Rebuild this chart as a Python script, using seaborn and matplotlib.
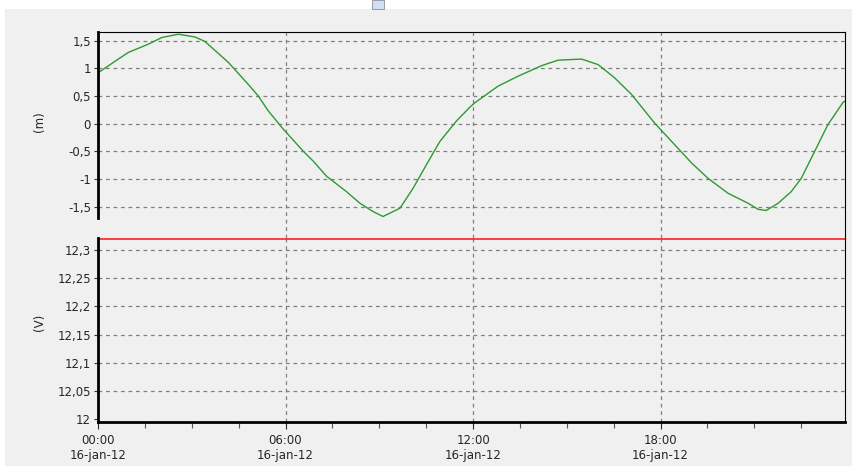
import matplotlib
matplotlib.use("Agg")
import matplotlib.pyplot as plt
import matplotlib.ticker as mticker
from matplotlib.patches import Rectangle
import seaborn as sns
import pandas as pd

# tide level (m) over the day, hours since 00:00 16-jan-12
tide_hours = [0.0, 0.65, 0.97, 1.61, 2.04, 2.57, 3.1, 3.42, 4.17, 4.81, 5.13, 5.45,
              5.9, 6.57, 6.89, 7.31, 7.95, 8.38, 8.8, 9.12, 9.66, 10.08, 10.51,
              10.94, 11.47, 11.9, 12.06, 12.8, 13.44, 14.19, 14.72, 15.47, 16.0,
              16.53, 17.07, 17.81, 18.45, 18.99, 19.52, 20.16, 20.8, 21.12, 21.38,
              21.76, 22.18, 22.5, 22.93, 23.35, 23.83, 23.9]
tide_level = [0.92, 1.17, 1.29, 1.44, 1.56, 1.62, 1.57, 1.49, 1.11, 0.71, 0.5, 0.23,
              -0.08, -0.5, -0.68, -0.95, -1.23, -1.44, -1.59, -1.68, -1.53, -1.17, -0.74,
              -0.32, 0.05, 0.3, 0.38, 0.68, 0.86, 1.05, 1.15, 1.17, 1.07,
              0.83, 0.53, 0.01, -0.38, -0.71, -0.99, -1.26, -1.44, -1.55, -1.57,
              -1.44, -1.23, -0.99, -0.5, -0.02, 0.38, 0.41]

# battery voltage (V)
volt_hours = [0.0, 23.9]
volt_value = [12.319, 12.319]

m_ticks = [1.5, 1, 0.5, 0, -0.5, -1, -1.5]
v_ticks = [12.3, 12.25, 12.2, 12.15, 12.1, 12.05, 12.0]
x_major = [0, 6, 12, 18]
date_label = "16-jan-12"

tide = pd.DataFrame({"hour": tide_hours, "level": tide_level})
volt = pd.DataFrame({"hour": volt_hours, "volt": volt_value})

sns.set_style("white", {"axes.facecolor": "#f0f0f0"})
plt.rcParams["font.family"] = ["DejaVu Sans"]
plt.rcParams["font.size"] = 8

W, H = 853, 466
fig = plt.figure(figsize=(W / 100, H / 100), dpi=100, facecolor="white")
fig.patches.append(Rectangle((5 / W, 0), 1 - 5 / W, 1 - 9 / H, transform=fig.transFigure,
                             facecolor="#f0f0f0", edgecolor="none", zorder=-10))
fig.patches.append(Rectangle((372 / W, 1 - 9 / H), 12 / W, 9 / H, transform=fig.transFigure,
                             facecolor="#cfe0f3", edgecolor="#8a8f99", lw=0.6, zorder=-5))

left, right = 98 / W, 845 / W
y_top, y_mid, y_bot = 1 - 32 / H, 1 - 237.5 / H, 1 - 422 / H
ax1 = fig.add_axes([left, y_mid, right - left, y_top - y_mid])
ax2 = fig.add_axes([left, y_bot, right - left, y_mid - y_bot], sharex=ax1)

sns.lineplot(data=tide, x="hour", y="level", ax=ax1, color="#2e9a2e", lw=1.0)
sns.lineplot(data=volt, x="hour", y="volt", ax=ax2, color="#ff2020", lw=1.2)

comma = mticker.FuncFormatter(lambda v, p: ("%g" % round(v, 3)).replace(".", ","))

ax1.set_ylim(-2.06, 1.66)
ax1.set_yticks(m_ticks)
ax2.set_ylim(11.995, 12.322)
ax2.set_yticks(v_ticks)
ax2.set_xlim(0, 23.9)
ax2.set_xticks(x_major)
ax2.xaxis.set_minor_locator(mticker.MultipleLocator(1.5))
ax2.xaxis.set_major_formatter(mticker.FuncFormatter(lambda v, p: "%02d:00\n%s" % (int(round(v)), date_label)))

for ax in (ax1, ax2):
    ax.yaxis.set_major_formatter(comma)
    ax.set_xlabel("")
    ax.set_ylabel("")
    ax.grid(True, color="#808080", linestyle=(0, (3, 3)), lw=0.9)
    ax.tick_params(axis="y", direction="out", length=3, width=0.8, color="#333333",
                   labelsize=8.5, pad=2, left=True)
    ax.spines["left"].set_linewidth(2)
    ax.spines["right"].set_linewidth(0.8)
    ax.spines["top"].set_linewidth(0.8)
    ax.spines["bottom"].set_linewidth(2)
    for s in ax.spines.values():
        s.set_color("black")
    # the 00:00 grid line sits on the left axis
    ax.xaxis.get_gridlines()[0].set_visible(False)

# no dashed line on the bottom tick (12), it sits on the axis
ax2.yaxis.get_gridlines()[-1].set_visible(False)

ax1.spines["bottom"].set_visible(False)
ax1.spines["left"].set_bounds(-1.7, 1.66)
ax1.tick_params(axis="x", bottom=False, labelbottom=False)
ax2.spines["top"].set_visible(False)
ax2.tick_params(axis="x", which="major", direction="out", length=5, width=0.8,
                labelsize=8.5, pad=4, bottom=True)
ax2.tick_params(axis="x", which="minor", direction="out", length=4, width=0.8,
                color="#555555", bottom=True)

fig.text(40 / W, 1 - 122 / H, "(m)", rotation=90, ha="center", va="center", fontsize=8.5)
fig.text(40 / W, 1 - 322 / H, "(V)", rotation=90, ha="center", va="center", fontsize=8.5)

fig.savefig("out.png", dpi=100, facecolor=fig.get_facecolor())
